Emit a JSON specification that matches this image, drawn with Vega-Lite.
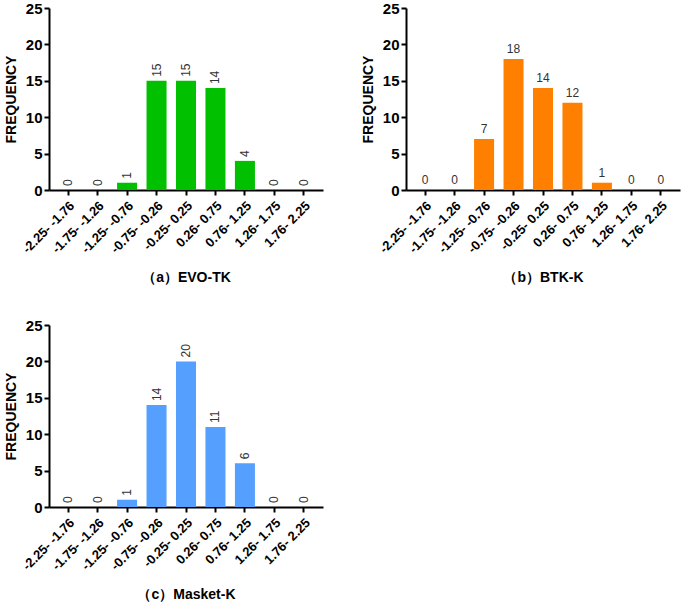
{
  "$schema": "https://vega.github.io/schema/vega-lite/v6.json",
  "padding": {"left": 4, "top": 1, "right": 3, "bottom": 2},
  "background": "white",
  "config": {
    "view": {"stroke": null},
    "font": "Liberation Sans",
    "axis": {
      "domainColor": "black",
      "domainWidth": 2,
      "tickColor": "black",
      "tickWidth": 2,
      "tickSize": 5,
      "grid": false,
      "labelColor": "black",
      "labelFontWeight": "bold",
      "titleColor": "black",
      "titleFontWeight": "bold",
      "titleFontSize": 14
    },
    "axisY": {"labelFontSize": 15, "labelPadding": 2, "titlePadding": 7},
    "axisX": {"labelFontSize": 13, "labelAngle": -45, "labelPadding": 4, "titleFontSize": 14, "titleBaseline": "middle", "titleY": 87}
  },
  "datasets": {
    "a": [
      {"bin": "-2.25- -1.76", "freq": 0}, {"bin": "-1.75- -1.26", "freq": 0}, {"bin": "-1.25- -0.76", "freq": 1},
      {"bin": "-0.75- -0.26", "freq": 15}, {"bin": "-0.25- 0.25", "freq": 15}, {"bin": "0.26- 0.75", "freq": 14},
      {"bin": "0.76- 1.25", "freq": 4}, {"bin": "1.26- 1.75", "freq": 0}, {"bin": "1.76- 2.25", "freq": 0}
    ],
    "b": [
      {"bin": "-2.25- -1.76", "freq": 0}, {"bin": "-1.75- -1.26", "freq": 0}, {"bin": "-1.25- -0.76", "freq": 7},
      {"bin": "-0.75- -0.26", "freq": 18}, {"bin": "-0.25- 0.25", "freq": 14}, {"bin": "0.26- 0.75", "freq": 12},
      {"bin": "0.76- 1.25", "freq": 1}, {"bin": "1.26- 1.75", "freq": 0}, {"bin": "1.76- 2.25", "freq": 0}
    ],
    "c": [
      {"bin": "-2.25- -1.76", "freq": 0}, {"bin": "-1.75- -1.26", "freq": 0}, {"bin": "-1.25- -0.76", "freq": 1},
      {"bin": "-0.75- -0.26", "freq": 14}, {"bin": "-0.25- 0.25", "freq": 20}, {"bin": "0.26- 0.75", "freq": 11},
      {"bin": "0.76- 1.25", "freq": 6}, {"bin": "1.26- 1.75", "freq": 0}, {"bin": "1.76- 2.25", "freq": 0}
    ]
  },
  "spacing": 34,
  "vconcat": [
    {
      "spacing": 38,
      "hconcat": [
        {
          "data": {"name": "a"},
          "width": 274,
          "height": 182,
          "encoding": {
            "x": {"field": "bin", "type": "nominal", "sort": null, "scale": {"paddingInner": 0.32, "paddingOuter": 0.31}, "axis": {"title": "（a）EVO-TK"}},
            "y": {"field": "freq", "type": "quantitative", "scale": {"domain": [0, 25], "nice": false}, "axis": {"title": "FREQUENCY", "values": [0, 5, 10, 15, 20, 25]}}
          },
          "layer": [
            {"mark": {"type": "bar", "color": "#00C000"}},
            {"mark": {"type": "text", "angle": -90, "align": "left", "baseline": "middle", "dx": 4, "fontSize": 12, "color": "#333333"}, "encoding": {"text": {"field": "freq", "type": "quantitative"}}}
          ]
        },
        {
          "data": {"name": "b"},
          "width": 274,
          "height": 182,
          "encoding": {
            "x": {"field": "bin", "type": "nominal", "sort": null, "scale": {"paddingInner": 0.32, "paddingOuter": 0.31}, "axis": {"title": "（b）BTK-K"}},
            "y": {"field": "freq", "type": "quantitative", "scale": {"domain": [0, 25], "nice": false}, "axis": {"title": "FREQUENCY", "values": [0, 5, 10, 15, 20, 25]}}
          },
          "layer": [
            {"mark": {"type": "bar", "color": "#FF8000"}},
            {"mark": {"type": "text", "align": "center", "baseline": "bottom", "dy": -3, "fontSize": 12, "color": "#333333"}, "encoding": {"text": {"field": "freq", "type": "quantitative"}}}
          ]
        }
      ]
    },
    {
      "data": {"name": "c"},
      "width": 274,
      "height": 182,
      "encoding": {
        "x": {"field": "bin", "type": "nominal", "sort": null, "scale": {"paddingInner": 0.32, "paddingOuter": 0.31}, "axis": {"title": "（c）Masket-K"}},
        "y": {"field": "freq", "type": "quantitative", "scale": {"domain": [0, 25], "nice": false}, "axis": {"title": "FREQUENCY", "values": [0, 5, 10, 15, 20, 25]}}
      },
      "layer": [
        {"mark": {"type": "bar", "color": "#55A0FF"}},
        {"mark": {"type": "text", "angle": -90, "align": "left", "baseline": "middle", "dx": 4, "fontSize": 12, "color": "#333333"}, "encoding": {"text": {"field": "freq", "type": "quantitative"}}}
      ]
    }
  ]
}
